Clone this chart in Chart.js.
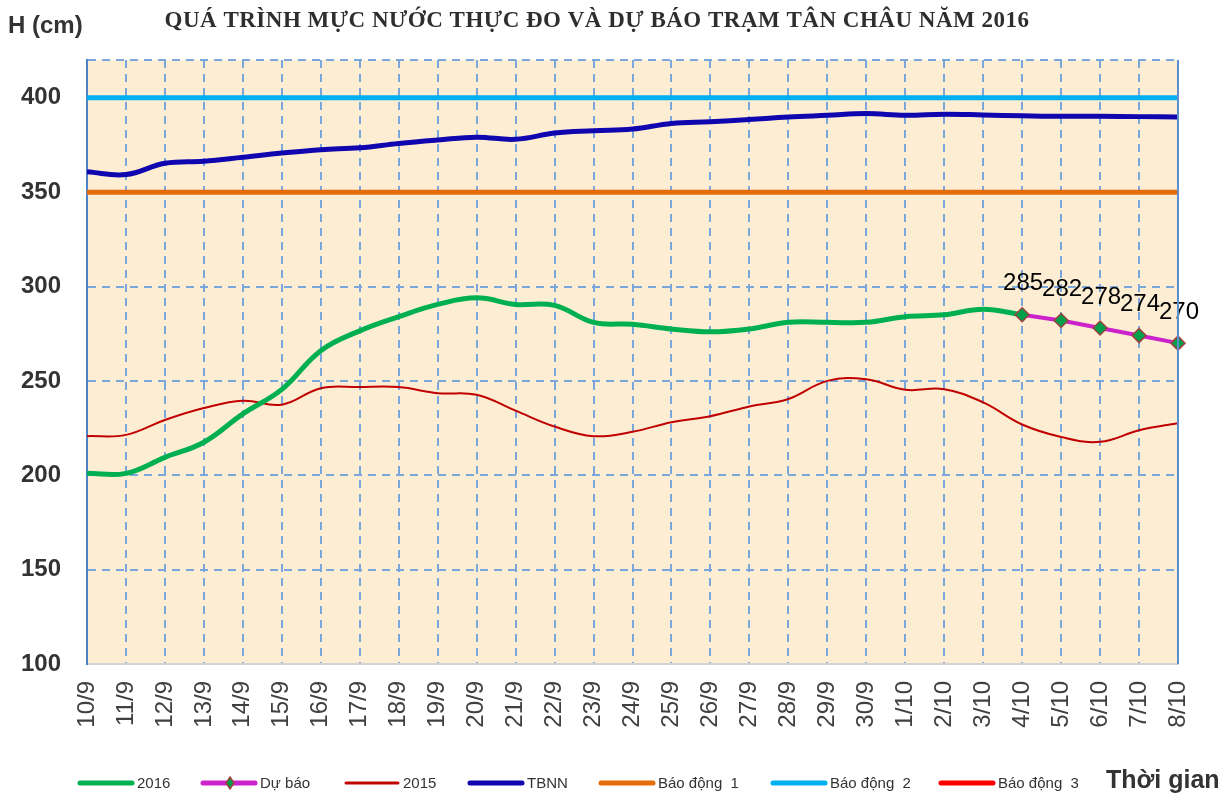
<!DOCTYPE html>
<html><head><meta charset="utf-8">
<script src="https://cdn.jsdelivr.net/npm/chart.js@4.4.1/dist/chart.umd.min.js"></script>
<style>html,body{margin:0;padding:0;background:#fff;}</style>
</head><body>
<canvas id="c" width="1224" height="798"></canvas>
<script>
const categories = ['10/9','11/9','12/9','13/9','14/9','15/9','16/9','17/9','18/9','19/9','20/9','21/9','22/9','23/9','24/9','25/9','26/9','27/9','28/9','29/9','30/9','1/10','2/10','3/10','4/10','5/10','6/10','7/10','8/10'];
const yTickLabels = [100,150,200,250,300,350,400];
const h2016 = [201,201,209.5,217.5,232.5,245.5,266,276.5,284,290.5,294,290.5,290,281,280,277.5,276,277.5,281,281,281,284,285,288,285,null,null,null,null];
const duBao = [null,null,null,null,null,null,null,null,null,null,null,null,null,null,null,null,null,null,null,null,null,null,null,null,285,282,278,274,270];
const h2015 = [220.7,221.4,229.3,235.6,239.5,237.4,246.1,246.7,246.7,243.5,242.6,234.2,225.8,220.7,223,228.1,231.3,236.4,240.4,250,250.9,245.3,245.6,238.6,226.9,220.3,217.7,223.8,227.6];
const tbnn = [360.8,359.3,365.3,366.4,368.5,370.7,372.5,373.5,375.8,377.6,379.1,378,381.3,382.5,383.4,386.4,387.3,388.5,389.8,390.7,391.6,390.7,391.3,390.9,390.4,390.2,390.2,390,389.8];
const baoDong1 = categories.map(() => 350);
const baoDong2 = categories.map(() => 400);
const baoDong3 = categories.map(() => 450);

const titleText = 'QUÁ TRÌNH MỰC NƯỚC THỰC ĐO VÀ DỰ BÁO TRẠM TÂN CHÂU NĂM 2016';

const bgPlugin = {
  id: 'bg',
  beforeDraw(chart) {
    const {ctx, chartArea: a} = chart;
    ctx.save();
    ctx.fillStyle = '#ffffff';
    ctx.fillRect(0, 0, chart.width, chart.height);
    ctx.fillStyle = '#fdeed3';
    ctx.fillRect(a.left, a.top, a.right - a.left, a.bottom - a.top);
    ctx.restore();
  }
};

const decoPlugin = {
  id: 'deco',
  afterDatasetsDraw(chart) {
    const ctx = chart.ctx;
    const idx = 1;
    const meta = chart.getDatasetMeta(idx);
    const data = chart.data.datasets[idx].data;
    ctx.save();
    ctx.font = '24px "Liberation Sans", Arial, sans-serif';
    ctx.fillStyle = '#000';
    ctx.textAlign = 'center';
    ctx.textBaseline = 'middle';
    meta.data.forEach((pt, i) => {
      if (data[i] == null) return;
      ctx.fillText(String(data[i]), pt.x + 1, pt.y - 31);
    });
    ctx.restore();
  },
  afterDraw(chart) {
    const {ctx, chartArea: a} = chart;
    ctx.save();
    // right border
    ctx.strokeStyle = '#5b8fd0';
    ctx.lineWidth = 2;
    ctx.beginPath();
    ctx.moveTo(a.right, a.top);
    ctx.lineTo(a.right, a.bottom);
    ctx.stroke();
    // title
    ctx.fillStyle = '#2e2e2e';
    ctx.textAlign = 'center';
    ctx.textBaseline = 'middle';
    ctx.font = 'bold 23px "Liberation Serif", "Times New Roman", serif';
    try { ctx.letterSpacing = '0.5px'; } catch (e) {}
    ctx.fillText(titleText, 597, 21);
    try { ctx.letterSpacing = '0px'; } catch (e) {}
    // axis titles
    ctx.fillStyle = '#333333';
    ctx.textAlign = 'left';
    ctx.font = 'bold 24px "Liberation Sans", Arial, sans-serif';
    ctx.fillText('H (cm)', 8, 26);
    ctx.font = 'bold 25px "Liberation Sans", Arial, sans-serif';
    ctx.fillText('Thời gian', 1106, 781);
    // legend
    const xs = [80, 203, 346, 470, 601, 773, 941];
    const ly = 783;
    chart.data.datasets.forEach((ds, i) => {
      const x = xs[i];
      ctx.strokeStyle = ds.borderColor;
      ctx.lineWidth = i === 2 ? 3 : 5;
      ctx.lineCap = 'round';
      ctx.beginPath();
      ctx.moveTo(x, ly);
      ctx.lineTo(x + 52, ly);
      ctx.stroke();
      if (i === 1) {
        ctx.fillStyle = ds.pointBackgroundColor;
        ctx.strokeStyle = ds.pointBorderColor;
        ctx.lineWidth = 1.5;
        ctx.beginPath();
        ctx.moveTo(x + 27, ly - 6);
        ctx.lineTo(x + 31, ly);
        ctx.lineTo(x + 27, ly + 6);
        ctx.lineTo(x + 23, ly);
        ctx.closePath();
        ctx.fill();
        ctx.stroke();
      }
      ctx.fillStyle = '#333333';
      ctx.font = '15px "Liberation Sans", Arial, sans-serif';
      ctx.textAlign = 'left';
      ctx.textBaseline = 'middle';
      ctx.fillText(ds.label, x + 57, ly + 1);
    });
    ctx.restore();
  }
};

const gridColor = '#7aa6dc';

new Chart(document.getElementById('c'), {
  type: 'line',
  data: {
    labels: categories,
    datasets: [
      {label: '2016', data: h2016, borderColor: '#00b050', borderWidth: 5, pointRadius: 0, tension: 0.4, order: 1},
      {label: 'Dự báo', data: duBao, borderColor: '#cc22cc', borderWidth: 4, pointStyle: 'rectRot', pointRadius: 7, pointHoverRadius: 7,
        pointBackgroundColor: '#00a04a', pointBorderColor: '#a04040', pointBorderWidth: 1.5, tension: 0, order: 0},
      {label: '2015', data: h2015, borderColor: '#c00000', borderWidth: 2, pointRadius: 0, tension: 0.4, order: 2},
      {label: 'TBNN', data: tbnn, borderColor: '#1006b0', borderWidth: 5, pointRadius: 0, tension: 0.4, order: 3},
      {label: 'Báo động  1', data: baoDong1, borderColor: '#e46c0a', borderWidth: 5, pointRadius: 0, order: 4},
      {label: 'Báo động  2', data: baoDong2, borderColor: '#00b0f0', borderWidth: 5, pointRadius: 0, order: 5},
      {label: 'Báo động  3', data: baoDong3, borderColor: '#ff0000', borderWidth: 5, pointRadius: 0, order: 6}
    ]
  },
  options: {
    responsive: false,
    animation: false,
    devicePixelRatio: 1,
    layout: {padding: {top: 60, right: 46, bottom: 44, left: 0}},
    plugins: {legend: {display: false}, title: {display: false}, tooltip: {enabled: false}},
    scales: {
      x: {
        offset: false,
        afterFit(s) { s.height = 90; },
        grid: {color: gridColor, lineWidth: 2, drawTicks: false},
        border: {display: true, color: '#d3d3d3', width: 2, dash: [8, 6]},
        ticks: {minRotation: 90, maxRotation: 90, autoSkip: false, padding: 17, color: '#404040',
          font: {family: '"Liberation Sans", Arial, sans-serif', size: 24}}
      },
      y: {
        min: 100, max: 420,
        afterFit(s) { s.width = 87; },
        grid: {color: gridColor, lineWidth: 2, drawTicks: false},
        border: {display: true, color: '#4f81c6', width: 2, dash: [8, 6]},
        ticks: {stepSize: 50, padding: 26, color: '#333333',
          font: {family: '"Liberation Sans", Arial, sans-serif', size: 24, weight: 'bold'},
          callback: (v) => yTickLabels.includes(v) ? String(v) : ''}
      }
    }
  },
  plugins: [bgPlugin, decoPlugin]
});
</script>
</body></html>
